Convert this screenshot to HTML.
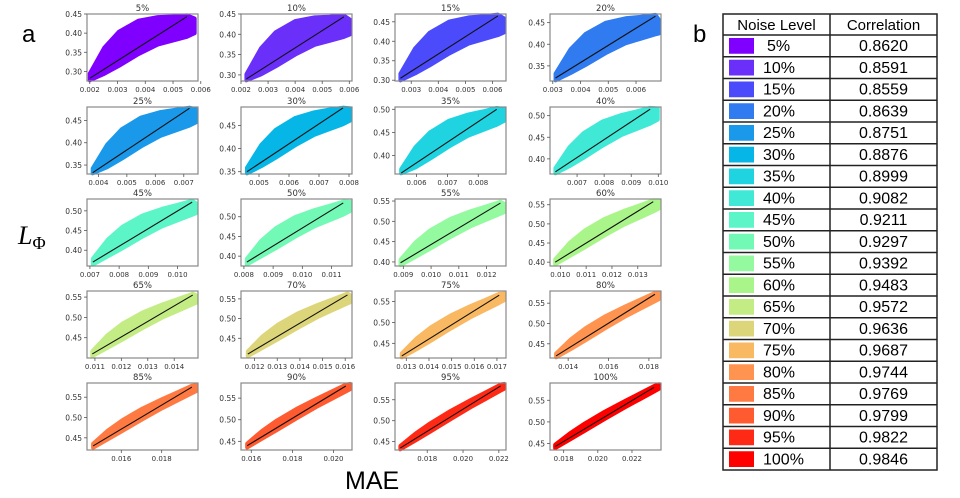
<!DOCTYPE html>
<html><head><meta charset="utf-8"><style>
html,body{margin:0;padding:0;background:#fff;width:960px;height:498px;overflow:hidden}
svg{display:block}
text{font-family:"DejaVu Sans","Liberation Sans",sans-serif}
</style></head><body>
<svg id="fig" width="960" height="498" viewBox="0 0 960 498">
<text x="22" y="42" font-size="24" style="font-family:'Liberation Sans',sans-serif">a</text>
<text x="693" y="42" font-size="24" style="font-family:'Liberation Sans',sans-serif">b</text>
<text x="18" y="244" font-size="26" font-style="italic" style="font-family:'Liberation Serif',serif">L<tspan font-size="18" font-style="normal" dy="5">Φ</tspan></text>
<text x="345" y="489" font-size="25" style="font-family:'Liberation Sans',sans-serif">MAE</text>
<g id="plots"></g>
<g id="table"></g>
</svg>
<script>
const levels=["5%","10%","15%","20%","25%","30%","35%","40%","45%","50%","55%","60%","65%","70%","75%","80%","85%","90%","95%","100%"];
const correlations=["0.8620","0.8591","0.8559","0.8639","0.8751","0.8876","0.8999","0.9082","0.9211","0.9297","0.9392","0.9483","0.9572","0.9636","0.9687","0.9744","0.9769","0.9799","0.9822","0.9846"];
const colors=["#8000ff","#6a2ff9","#4b4bfb","#2f7bef","#1a98ea","#06b6e6","#1fd3e0","#40e8d6","#5cf5c8","#72f9b6","#94faa0","#aaf58a","#c4ec84","#ddd57a","#f9b862","#ff9450","#ff7a42","#ff5a30","#ff2a15","#ff0000"];
const xMin=[0.0019,0.0020,0.0024,0.0029,0.0036,0.0044,0.0053,0.0060,0.0069,0.0079,0.0087,0.0096,0.0107,0.0114,0.0125,0.0131,0.0143,0.0155,0.0162,0.0172];
const xMax=[0.0059,0.0061,0.0065,0.0069,0.0075,0.0081,0.0089,0.0101,0.0107,0.0117,0.0127,0.0139,0.0149,0.0163,0.0174,0.0186,0.0198,0.0209,0.0224,0.0237];
const yMin=[0.275,0.285,0.298,0.315,0.330,0.345,0.360,0.365,0.360,0.375,0.390,0.390,0.400,0.400,0.415,0.415,0.420,0.430,0.430,0.435];
const yMax=[0.450,0.450,0.470,0.470,0.480,0.490,0.505,0.520,0.530,0.545,0.555,0.565,0.565,0.570,0.575,0.580,0.585,0.585,0.590,0.590];
const xTicks=[[0.002,0.003,0.004,0.005,0.006],[0.002,0.003,0.004,0.005,0.006],[0.003,0.004,0.005,0.006],[0.003,0.004,0.005,0.006],[0.004,0.005,0.006,0.007],[0.005,0.006,0.007,0.008],[0.006,0.007,0.008],[0.007,0.008,0.009,0.010],[0.007,0.008,0.009,0.010],[0.008,0.009,0.010,0.011],[0.009,0.010,0.011,0.012],[0.010,0.011,0.012,0.013],[0.011,0.012,0.013,0.014],[0.012,0.013,0.014,0.015,0.016],[0.013,0.014,0.015,0.016,0.017],[0.014,0.016,0.018],[0.016,0.018],[0.016,0.018,0.020],[0.018,0.020,0.022],[0.018,0.020,0.022]];
const yTicks=[[0.30,0.35,0.40,0.45],[0.30,0.35,0.40,0.45],[0.30,0.35,0.40,0.45],[0.35,0.40,0.45],[0.35,0.40,0.45],[0.35,0.40,0.45],[0.40,0.45,0.50],[0.40,0.45,0.50],[0.40,0.45,0.50],[0.40,0.45,0.50],[0.40,0.45,0.50,0.55],[0.40,0.45,0.50,0.55],[0.45,0.50,0.55],[0.45,0.50,0.55],[0.45,0.50,0.55],[0.45,0.50,0.55],[0.45,0.50,0.55],[0.45,0.50,0.55],[0.45,0.50,0.55],[0.45,0.50,0.55]];
const lineX0=[0.0020,0.0022,0.0026,0.0031,0.0038,0.0046,0.0055,0.0062,0.0071,0.0081,0.0089,0.0098,0.0109,0.0117,0.0128,0.0134,0.0146,0.0158,0.0165,0.0175];
const lineY0=[0.282,0.290,0.305,0.322,0.333,0.350,0.362,0.370,0.370,0.385,0.398,0.400,0.410,0.410,0.420,0.420,0.430,0.440,0.435,0.443];
const lineX1=[0.0055,0.0058,0.0062,0.0067,0.0072,0.0078,0.0086,0.0097,0.0105,0.0114,0.0125,0.0136,0.0147,0.0161,0.0171,0.0183,0.0195,0.0206,0.0221,0.0233];
const lineY1=[0.443,0.443,0.465,0.465,0.477,0.488,0.500,0.515,0.522,0.535,0.545,0.558,0.555,0.560,0.565,0.572,0.575,0.578,0.583,0.580];
const spread=[1.0,1.0,0.95,0.9,0.85,0.8,0.75,0.7,0.6,0.55,0.5,0.45,0.42,0.38,0.34,0.3,0.26,0.22,0.18,0.15];

const NS="http://www.w3.org/2000/svg";
function mk(tag,attrs,parent){const e=document.createElementNS(NS,tag);for(const k in attrs)e.setAttribute(k,attrs[k]);parent.appendChild(e);return e;}
const colX=[87,241,395,550], rowY=[14,107,199,291,383], PW=111, PH=67;
const plots=document.getElementById('plots');
levels.forEach((lv,i)=>{
  const px=colX[i%4], py=rowY[Math.floor(i/4)];
  const g=mk('g',{},plots);
  
  
  const sx=v=>px+(v-xMin[i])/(xMax[i]-xMin[i])*PW;
  const sy=v=>py+PH-(v-yMin[i])/(yMax[i]-yMin[i])*PH;
  const lx=t=>lineX0[i]+t*(lineX1[i]-lineX0[i]);
  const ly=t=>lineY0[i]+t*(lineY1[i]-lineY0[i]);
  const yr=yMax[i]-yMin[i], s=spread[i];
  const tmax=(xMax[i]-lineX0[i])/(lineX1[i]-lineX0[i])-0.02;
  const ts=[0,0.15,0.3,0.5,0.7,0.85,1.0,1.08];
  const up=[0.05,0.3,0.4,0.38,0.25,0.12,0.0,-0.12];
  const lo=[-0.03,-0.05,-0.07,-0.08,-0.12,-0.2,-0.28,-0.3];
  const pts=[];
  ts.forEach((t,k)=>{const tt=Math.min(t,tmax);pts.push([sx(lx(tt)),sy(Math.min(ly(tt)+(up[k]*s+0.02)*yr,yMax[i]-0.01*yr))]);});
  for(let k=ts.length-1;k>=0;k--){const t=Math.min(ts[k],tmax);pts.push([sx(lx(t)),sy(Math.max(ly(t)+(lo[k]*s-0.02)*yr,yMin[i]+0.01*yr))]);}
  const cloud=mk('polygon',{points:pts.map(p=>p.join(',')).join(' '),fill:colors[i],stroke:colors[i],'stroke-width':4,'stroke-linejoin':'round'},g);
  
  
  const fit=mk('line',{x1:sx(lineX0[i]),y1:sy(lineY0[i]),x2:sx(lineX1[i]),y2:sy(lineY1[i]),stroke:'#111','stroke-width':1.1},g);
  
  
  const fr=mk('rect',{x:px,y:py,width:PW,height:PH,fill:'none',stroke:'#888','stroke-width':1.2},g);
  
  
  const tt=mk('text',{x:px+PW/2,y:py-3,'font-size':8.5,'text-anchor':'middle',fill:'#333'},g);
  tt.textContent=lv;
  
  
  xTicks[i].forEach(v=>{const x=sx(v);mk('line',{x1:x,y1:py+PH,x2:x,y2:py+PH+3,stroke:'#555','stroke-width':0.8},g);
    const t=mk('text',{x:x,y:py+PH+11,'font-size':7,'text-anchor':'middle',fill:'#333'},g);t.textContent=v.toFixed(3);
    
    });
  yTicks[i].forEach(v=>{const y=sy(v);mk('line',{x1:px,y1:y,x2:px-3,y2:y,stroke:'#555','stroke-width':0.8},g);
    const t=mk('text',{x:px-5,y:y+3,'font-size':7.5,'text-anchor':'end',fill:'#333'},g);t.textContent=v.toFixed(2);
    
    });
});
const tb=document.getElementById('table');
const TL=723,TR=937,TM=830,TT=14,HH=21,RH=21.75;
const bottom=TT+HH+RH*levels.length;
mk('rect',{x:TL,y:TT,width:TR-TL,height:bottom-TT,fill:'#fff',stroke:'#222','stroke-width':1.5},tb);
mk('line',{x1:TM,y1:TT,x2:TM,y2:bottom,stroke:'#222','stroke-width':1.5},tb);
const h1=mk('text',{x:(TL+TM)/2,y:TT+16,'font-size':15,'text-anchor':'middle',style:"font-family:'Liberation Sans',sans-serif"},tb);h1.textContent='Noise Level';


const h2=mk('text',{x:(TM+TR)/2,y:TT+16,'font-size':15,'text-anchor':'middle',style:"font-family:'Liberation Sans',sans-serif"},tb);h2.textContent='Correlation';


levels.forEach((lv,i)=>{
  const y=TT+HH+RH*i;
  mk('line',{x1:TL,y1:y,x2:TR,y2:y,stroke:'#222','stroke-width':1.5},tb);
  const sw=mk('rect',{x:729,y:y+3,width:25,height:RH-6,fill:colors[i]},tb);
  
  
  const t=mk('text',{x:i==0?767:763,y:y+16,'font-size':16,style:"font-family:'Liberation Sans',sans-serif"},tb);t.textContent=lv;
  
  
  const c=mk('text',{x:(TM+TR)/2,y:y+16,'font-size':16,'text-anchor':'middle',style:"font-family:'Liberation Sans',sans-serif"},tb);c.textContent=correlations[i];
  
  
});
</script>
</body></html>
